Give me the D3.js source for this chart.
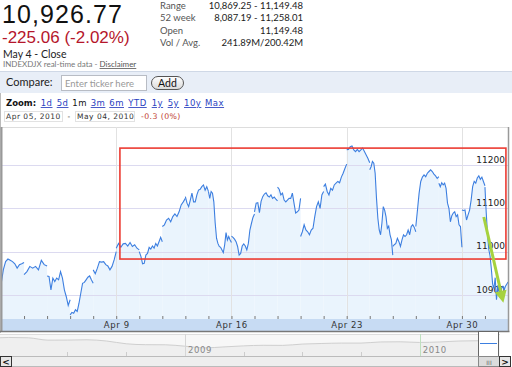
<!DOCTYPE html>
<html><head><meta charset="utf-8">
<script src="https://cdn.jsdelivr.net/npm/d3@7"></script>
<style>
body{margin:0;background:#fff;}
svg{display:block;}
</style></head><body>
<svg id="c" width="512" height="367"></svg>
<script>
// ---------- header data ----------
const quote = "10,926.77";
const change = "-225.06 (-2.02%)";
const closeLabel = "May 4 - Close";
const sourceText = "INDEXDJX real-time data - ";
const disclaimer = "Disclaimer";
const statLabels = ["Range", "52 week", "Open", "Vol / Avg."];
const statValues = ["10,869.25 - 11,149.48", "8,087.19 - 11,258.01", "11,149.48", "241.89M/200.42M"];
const zoomLinks = ["1d", "5d", "1m", "3m", "6m", "YTD", "1y", "5y", "10y", "Max"];
const activeZoom = "1m";
const dateFrom = "Apr 05, 2010", dateTo = "May 04, 2010", periodChange = "-0.3 (0%)";

// ---------- intraday data (one array per session) ----------
const days = ["Apr 5","Apr 6","Apr 7","Apr 8","Apr 9","Apr 12","Apr 13","Apr 14","Apr 15","Apr 16",
  "Apr 19","Apr 20","Apr 21","Apr 22","Apr 23","Apr 26","Apr 27","Apr 28","Apr 29","Apr 30","May 3","May 4"];
const apr05 = [10923,10958,10977,10983,10980,10977,10972,10962,10970,10972,10975];
const apr06 = [10947,10954,10966,10962,10966,10958,10980,10970,10967];
const apr07 = [10944,10943,10912,10939,10931,10939,10935,10954,10939,10912,10896,10876,10889];
const apr08 = [10854,10860,10858,10866,10862,10881,10904,10927,10929,10935,10941,10944,10935,10927];
const apr09 = [10958,10949,10962,10977,10976,10977,10970,10967,10958,10966,10981,11000];
const apr12 = [11008,11019,11010,11018,11019,11013,11021,11012,11016,11008,11004];
const apr13 = [11000,10989,10972,10973,10992,10996,11010,11006,11013,11008,11019,11013,11023,11033,11023];
const apr14 = [11058,11062,11073,11077,11069,11081,11087,11081,11092,11108,11115,11123];
const apr15 = [11127,11112,11104,11119,11135,11115,11115,11131,11142,11144,11150,11154,11142,11150,11139];
const apr16 = [11139,11123,11139,11135,11115,11066,11031,11019,11012,11010,11004,10998,11016,11044,11027,11035,11027,11021];
const apr19 = [11036,11033,11029,11023,11012,10992,10996,11013,11018,11013,11004,11019,11050,11065,11079,11087];
const apr20 = [11092,11112,11113,11090,11116,11127,11133,11136,11129,11126,11131,11123,11126,11121,11117];
const apr21 = [11149,11144,11131,11135,11119,11115,11119,11123,11123,11135,11112,11089,11092,11096,11123];
const apr22 = [11035,11046,11062,11050,11046,11039,11050,11054,11081,11104,11115,11100,11131,11139];
const apr23 = [11150,11156,11139,11131,11146,11142,11154,11158,11162,11159,11172,11181,11192,11202];
const apr26 = [11235,11236,11242,11244,11235,11231,11236,11231,11235,11239,11231,11223,11215,11205];
const apr27 = [11189,11196,11208,11204,11181,11123,11077,11050,11039,11066,11104,11096,11081,11054,11059,11039,11027,10992];
const apr28 = [11012,11016,11019,11031,11023,11012,11027,11039,11035,11039,11050,11039,11058,11062,11056,11046];
const apr29 = [11058,11096,11135,11162,11172,11177,11173,11181,11185,11189,11185,11179,11175,11169,11173];
const apr30 = [11158,11150,11159,11154,11158,11146,11112,11100,11069,11083,11089,11092,11081,11085,11062,11058,11010];
const may03 = [11096,11095,11096,11073,11085,11096,11119,11150,11162,11158,11170,11175,11167,11172,11162,11152];
const may04 = [11149,11090,11040,11005,10990,10960,10925,10915,10940,10889,10920,10916,10893,10916,10920,10912,10920,10925,10930];
const sessions = [apr05,apr06,apr07,apr08,apr09,apr12,apr13,apr14,apr15,apr16,apr19,apr20,apr21,apr22,apr23,apr26,apr27,apr28,apr29,apr30,may03,may04];

const yTicks = [10900, 11000, 11100, 11200];
const xTickLabels = ["Apr 9", "Apr 16", "Apr 23", "Apr 30"];

// annotation (in data units: session index, index value)
const boxSpan = [5.16, 21.91], boxRange = [11239, 10983];
const arrowFrom = [20.95, 11080], arrowTo = [21.8, 10882];

// ---------- overview (monthly, Mar 2008 - May 2010) ----------
const navValues = [12262,12820,12638,11350,11378,11544,10851,9325,8829,8776,8001,7063,7609,8168,8500,8447,9172,9496,9712,9713,10345,10428,10067,10325,10857,11009,10927];
const navYears = ["2009", "2010"];
const navYearIdx = [10, 22];

// ---------- drawing ----------
const svg = d3.select("#c");
const hf = "Lato, 'Open Sans', sans-serif";
const qf = "'Liberation Sans', Arial, sans-serif";
const vf = "'DejaVu Sans', Verdana, sans-serif";

// header
svg.append("text").attr("x", 2).attr("y", 22.6).attr("font-family", qf).attr("font-size", 25).attr("letter-spacing", 1.1).attr("fill", "#111").text(quote);
svg.append("text").attr("x", 2).attr("y", 43.4).attr("font-family", qf).attr("font-size", 17).attr("fill", "#b5162b").text(change);
svg.append("text").attr("x", 3).attr("y", 57.5).attr("font-family", hf).attr("font-size", 10.5).attr("fill", "#222").text(closeLabel);
const src = svg.append("text").attr("x", 3).attr("y", 67).attr("font-family", hf).attr("font-size", 8).attr("fill", "#777");
src.append("tspan").text(sourceText);
src.append("tspan").attr("fill", "#555").attr("text-decoration", "underline").text(disclaimer);

const statY = d3.scalePoint().domain(statLabels).range([8.5, 46]);
svg.selectAll(".sl").data(statLabels).join("text").attr("x", 160).attr("y", d => statY(d))
  .attr("font-family", hf).attr("font-size", 9.5).attr("fill", "#555").text(d => d);
svg.selectAll(".sv").data(statValues).join("text").attr("x", 303).attr("y", (d, i) => statY(statLabels[i]))
  .attr("text-anchor", "end").attr("font-family", hf).attr("font-size", 9.5).attr("fill", "#222").text(d => d);

// compare bar
svg.append("rect").attr("x", 0).attr("y", 71).attr("width", 512).attr("height", 22).attr("fill", "#e8eef7");
svg.append("line").attr("x1", 0).attr("x2", 512).attr("y1", 71.5).attr("y2", 71.5).attr("stroke", "#cfd8e6");
svg.append("text").attr("x", 6).attr("y", 86).attr("font-family", hf).attr("font-size", 11).attr("fill", "#222").text("Compare:");
svg.append("rect").attr("x", 61.5).attr("y", 75.5).attr("width", 85).attr("height", 15).attr("fill", "#fff").attr("stroke", "#b8bcc4");
svg.append("text").attr("x", 65).attr("y", 86.5).attr("font-family", hf).attr("font-size", 9.5).attr("fill", "#999").text("Enter ticker here");
const grad = svg.append("defs").append("linearGradient").attr("id", "btn").attr("x1", 0).attr("x2", 0).attr("y1", 0).attr("y2", 1);
grad.append("stop").attr("offset", 0).attr("stop-color", "#ffffff");
grad.append("stop").attr("offset", 1).attr("stop-color", "#dadada");
svg.append("rect").attr("x", 151.5).attr("y", 76.5).attr("width", 32).attr("height", 13).attr("rx", 6.5).attr("fill", "url(#btn)").attr("stroke", "#555");
svg.append("text").attr("x", 167.5).attr("y", 87).attr("text-anchor", "middle").attr("font-family", hf).attr("font-size", 10.5).attr("fill", "#111").text("Add");

// panel border
svg.append("line").attr("x1", 0.5).attr("x2", 0.5).attr("y1", 93).attr("y2", 333).attr("stroke", "#bbb");

// zoom row
svg.append("text").attr("x", 6).attr("y", 106).attr("font-family", vf).attr("font-size", 8.5).attr("font-weight", "bold").attr("fill", "#111").text("Zoom:");
const zx = [40.7, 56.7, 72.3, 90.7, 109.3, 128.3, 151.7, 167.7, 184, 205];
svg.selectAll(".zl").data(zoomLinks).join("text").attr("x", (d, i) => zx[i]).attr("y", 106)
  .attr("font-family", vf).attr("font-size", 8.5).attr("letter-spacing", 0.5)
  .attr("fill", d => d === activeZoom ? "#111" : "#2a3fbf")
  .attr("text-decoration", d => d === activeZoom ? "none" : "underline").text(d => d);
svg.append("rect").attr("x", 4.5).attr("y", 111.5).attr("width", 58).attr("height", 10).attr("fill", "#fff").attr("stroke", "#e2e2e2");
svg.append("text").attr("x", 6).attr("y", 119.3).attr("font-family", vf).attr("font-size", 7.5).attr("letter-spacing", 0.5).attr("fill", "#333").text(dateFrom);
svg.append("text").attr("x", 67.5).attr("y", 119.3).attr("font-family", vf).attr("font-size", 7.5).attr("fill", "#333").text("-");
svg.append("rect").attr("x", 75.5).attr("y", 111.5).attr("width", 59).attr("height", 10).attr("fill", "#fff").attr("stroke", "#e2e2e2");
svg.append("text").attr("x", 77).attr("y", 119.3).attr("font-family", vf).attr("font-size", 7.5).attr("letter-spacing", 0.5).attr("fill", "#333").text(dateTo);
svg.append("text").attr("x", 141).attr("y", 119.3).attr("font-family", vf).attr("font-size", 7.8).attr("letter-spacing", 0.4).attr("fill", "#c0392b").text(periodChange);

// ---------- main plot ----------
const pLeft = 2, pRight = 508.5, pTop = 127, pBottom = 319, bandBottom = 331;
const x = d3.scaleLinear().domain([0, days.length]).range([1, 508]);
const y = d3.scaleLinear().domain([10900, 11200]).range([295, 165]);

svg.append("clipPath").attr("id", "pc").append("rect").attr("x", pLeft).attr("y", pTop).attr("width", pRight - pLeft).attr("height", pBottom - pTop);
const plot = svg.append("g").attr("clip-path", "url(#pc)");
plot.append("line").attr("x1", pLeft).attr("x2", pRight).attr("y1", pTop + 0.5).attr("y2", pTop + 0.5).attr("stroke", "#ddd");

const pts = sessions.map((vals, i) => vals.map((v, j) => [i + j / (vals.length - 1), v]));
const area = d3.area().x(d => x(d[0])).y0(pBottom).y1(d => y(d[1]));
const line = d3.line().x(d => x(d[0])).y(d => y(d[1]));

plot.selectAll(".ar").data(pts).join("path").attr("d", area).attr("fill", "#eaf4fd");

// gridlines
plot.selectAll(".hg").data(yTicks).join("line").attr("x1", pLeft).attr("x2", pRight)
  .attr("y1", d => Math.round(y(d)) + 0.5).attr("y2", d => Math.round(y(d)) + 0.5).attr("stroke", "#dcdaf0");
const labelIdx = xTickLabels.map(l => days.indexOf(l) + 1);
plot.selectAll(".vg").data(labelIdx).join("line").attr("x1", d => Math.round(x(d)) + 0.5).attr("x2", d => Math.round(x(d)) + 0.5)
  .attr("y1", pTop).attr("y2", pBottom).attr("stroke", "#e2e2e2");

// y labels
plot.selectAll(".yl").data(yTicks).join("text").attr("x", 505).attr("y", d => y(d) - 2.5)
  .attr("text-anchor", "end").attr("font-family", vf).attr("font-size", 9).attr("fill", "#222").text(d => d);

plot.selectAll(".ln").data(pts).join("path").attr("d", line).attr("fill", "none").attr("stroke", "#3d7fe0").attr("stroke-width", 1.1);

// x band + axis
svg.append("rect").attr("x", pLeft).attr("y", pBottom).attr("width", pRight - pLeft).attr("height", bandBottom - pBottom).attr("fill", "#c7dbf3");
const xAxis = d3.axisBottom(x).tickValues(d3.range(1, days.length)).tickSizeInner(-3).tickSizeOuter(0).tickPadding(3)
  .tickFormat(i => { const k = labelIdx.indexOf(i); return k >= 0 ? xTickLabels[k] : ""; });
const ax = svg.append("g").attr("transform", `translate(0,${pBottom})`).call(xAxis);
ax.select(".domain").remove();
ax.selectAll("line").attr("stroke", "#777");
ax.selectAll("text").attr("font-family", vf).attr("font-size", 8.5).attr("letter-spacing", 0.6).attr("fill", "#333");

// frame
svg.append("line").attr("x1", 1.5).attr("x2", 1.5).attr("y1", pTop).attr("y2", bandBottom).attr("stroke", "#999").attr("stroke-width", 2);
svg.append("line").attr("x1", pRight).attr("x2", pRight).attr("y1", pTop).attr("y2", bandBottom).attr("stroke", "#999").attr("stroke-width", 1.5);
svg.append("line").attr("x1", 0).attr("x2", pRight + 1).attr("y1", bandBottom + 0.5).attr("y2", bandBottom + 0.5).attr("stroke", "#777").attr("stroke-width", 1.5);

// annotations
svg.append("rect").attr("x", x(boxSpan[0])).attr("y", y(boxRange[0])).attr("width", x(boxSpan[1]) - x(boxSpan[0]))
  .attr("height", y(boxRange[1]) - y(boxRange[0])).attr("fill", "none").attr("stroke", "#ec3b32").attr("stroke-width", 1.6);
const ax0 = x(arrowFrom[0]), ay0 = y(arrowFrom[1]), ax1 = x(arrowTo[0]), ay1 = y(arrowTo[1]);
const ang = Math.atan2(ay1 - ay0, ax1 - ax0), hl = 12, hw = 6;
const bx = ax1 - hl * Math.cos(ang), by = ay1 - hl * Math.sin(ang);
svg.append("line").attr("x1", ax0).attr("y1", ay0).attr("x2", bx).attr("y2", by).attr("stroke", "#a6d23f").attr("stroke-width", 3);
svg.append("path").attr("d", d3.line()([[ax1, ay1], [bx + hw * Math.sin(ang), by - hw * Math.cos(ang)], [bx - hw * Math.sin(ang), by + hw * Math.cos(ang)]]) + "Z")
  .attr("fill", "#a6d23f");

// ---------- overview navigator ----------
const nTop = 334, nBottom = 356;
svg.append("rect").attr("x", 0).attr("y", nTop).attr("width", 500).attr("height", nBottom - nTop).attr("fill", "#f7f7f7");
svg.append("line").attr("x1", 0).attr("x2", 500).attr("y1", nTop + 0.5).attr("y2", nTop + 0.5).attr("stroke", "#ddd");
const nx = d3.scaleLinear().domain([0, navValues.length - 1]).range([-10.8, 498]);
const ny = d3.scaleLinear().domain([7000, 12800]).range([348, 337.5]);
const ng = svg.append("g");
ng.append("path").datum(navValues).attr("d", d3.area().curve(d3.curveMonotoneX).x((d, i) => nx(i)).y0(nBottom).y1(d => ny(d))).attr("fill", "#efefef");
ng.append("path").datum(navValues).attr("d", d3.line().curve(d3.curveMonotoneX).x((d, i) => nx(i)).y(d => ny(d))).attr("fill", "none").attr("stroke", "#cfcfcf");
ng.selectAll(".ny").data(navYearIdx).join("line").attr("x1", d => Math.round(nx(d)) + 0.5).attr("x2", d => Math.round(nx(d)) + 0.5)
  .attr("y1", nTop).attr("y2", nBottom).attr("stroke", (d, i) => i === 1 ? "#bfe0bf" : "#d6d6d6");
ng.selectAll(".nl").data(navYears).join("text").attr("x", (d, i) => nx(navYearIdx[i]) + 3).attr("y", 353)
  .attr("font-family", vf).attr("font-size", 8.5).attr("letter-spacing", 0.6).attr("fill", "#888").text(d => d);
ng.selectAll(".nt").data([4, 7, 13, 16, 19, 25]).join("line").attr("x1", d => Math.round(nx(d)) + 0.5).attr("x2", d => Math.round(nx(d)) + 0.5)
  .attr("y1", nBottom - 4).attr("y2", nBottom).attr("stroke", "#ccc");
// selection window
svg.append("rect").attr("x", 478.5).attr("y", 331.5).attr("width", 20).attr("height", 25).attr("fill", "#fff").attr("stroke", "#666");
svg.append("line").attr("x1", 480).attr("x2", 497).attr("y1", 343.5).attr("y2", 343.5).attr("stroke", "#3d7fe0");

// scrollbar
svg.append("rect").attr("x", 0).attr("y", 356.5).attr("width", 510).attr("height", 10).attr("fill", "#eee").attr("stroke", "#bbb");
svg.append("rect").attr("x", 0.5).attr("y", 356.5).attr("width", 11).attr("height", 10).attr("fill", "#e6e6e6").attr("stroke", "#333");
svg.append("text").attr("x", 6).attr("y", 365).attr("text-anchor", "middle").attr("font-family", vf).attr("font-size", 9).attr("font-weight", "bold").attr("fill", "#111").text("<");
svg.append("rect").attr("x", 478.5).attr("y", 356.5).attr("width", 21).attr("height", 10).attr("fill", "#dcdcdc").attr("stroke", "#888");
svg.append("text").attr("x", 489).attr("y", 364.5).attr("text-anchor", "middle").attr("font-family", vf).attr("font-size", 6).attr("fill", "#666").text("III");
svg.append("rect").attr("x", 499.5).attr("y", 356.5).attr("width", 11).attr("height", 10).attr("fill", "#e6e6e6").attr("stroke", "#333");
svg.append("text").attr("x", 505).attr("y", 365).attr("text-anchor", "middle").attr("font-family", vf).attr("font-size", 9).attr("font-weight", "bold").attr("fill", "#111").text(">");
</script>
</body></html>
